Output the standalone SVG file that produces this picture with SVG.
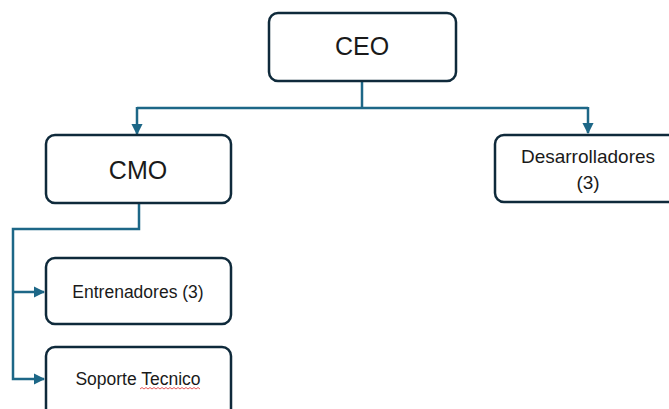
<svg xmlns="http://www.w3.org/2000/svg" width="669" height="409" viewBox="0 0 669 409">
  <style>
    .box { fill: #ffffff; stroke: #0f2a3b; stroke-width: 2.5; }
    .lbl { font-family: "Liberation Sans", Arial, sans-serif; fill: #1a1a1a; text-anchor: middle; }
    .big { font-size: 25px; }
    .small { font-size: 17.5px; }
    .med { font-size: 19px; }
    .conn { fill: none; stroke: #1d6787; stroke-width: 2.5; }
  </style>
  <defs>
    <marker id="arr" viewBox="0 0 10 10" refX="9" refY="5" markerWidth="4.5" markerHeight="4.5" orient="auto" markerUnits="strokeWidth">
      <path d="M0,0 L10,5 L0,10 z" fill="#1d6787"/>
    </marker>
  </defs>
  <rect width="669" height="409" fill="#ffffff"/>
  <g id="connectors">
    <path class="conn" d="M362,81 V108"/>
    <path class="conn" d="M137,108 H588"/>
    <path class="conn" d="M137,107 V134" marker-end="url(#arr)"/>
    <path class="conn" d="M588,107 V133" marker-end="url(#arr)"/>
    <path class="conn" d="M139,203 V229 H13 V379 H44" marker-end="url(#arr)"/>
    <path class="conn" d="M13,292 H44" marker-end="url(#arr)"/>
  </g>
  <g id="ceo">
    <rect class="box" x="269" y="13" width="187" height="68" rx="9"/>
    <text class="lbl big" x="362" y="55">CEO</text>
  </g>
  <g id="cmo">
    <rect class="box" x="46" y="135" width="185" height="68" rx="9"/>
    <text class="lbl big" x="138" y="179">CMO</text>
  </g>
  <g id="desarrolladores">
    <rect class="box" x="495" y="135" width="200" height="67" rx="9"/>
    <text class="lbl med" x="588" y="163">Desarrolladores</text>
    <text class="lbl med" x="588" y="189">(3)</text>
  </g>
  <g id="entrenadores">
    <rect class="box" x="46" y="258" width="185" height="66" rx="9"/>
    <text class="lbl small" x="138" y="298">Entrenadores (3)</text>
  </g>
  <g id="soporte">
    <rect class="box" x="46" y="347" width="185" height="72" rx="9"/>
    <text class="lbl small" x="138" y="385">Soporte Tecnico</text>
    <path d="M140,389 l2,-1.5 l2,1.5 l2,-1.5 l2,1.5 l2,-1.5 l2,1.5 l2,-1.5 l2,1.5 l2,-1.5 l2,1.5 l2,-1.5 l2,1.5 l2,-1.5 l2,1.5 l2,-1.5 l2,1.5 l2,-1.5 l2,1.5 l2,-1.5 l2,1.5 l2,-1.5 l2,1.5 l2,-1.5 l2,1.5 l2,-1.5 l2,1.5 l2,-1.5 l2,1.5 l2,-1.5 l2,1.5" fill="none" stroke="#e03030" stroke-width="0.8"/>
  </g>
</svg>
